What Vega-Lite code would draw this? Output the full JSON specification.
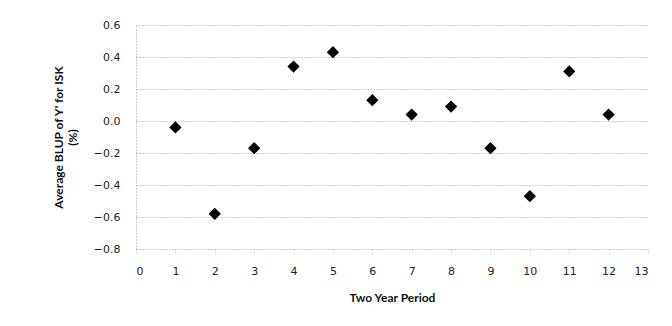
{
  "$schema": "https://vega.github.io/schema/vega-lite/v6.json",
  "width": 512,
  "height": 224,
  "autosize": {"type": "none"},
  "padding": {"left": 136, "top": 25, "right": 24, "bottom": 77},
  "background": "white",
  "config": {"view": {"stroke": null}},
  "data": {"values": [
    {"period": 1, "blup": -0.04},
    {"period": 2, "blup": -0.58},
    {"period": 3, "blup": -0.17},
    {"period": 4, "blup": 0.34},
    {"period": 5, "blup": 0.43},
    {"period": 6, "blup": 0.13},
    {"period": 7, "blup": 0.04},
    {"period": 8, "blup": 0.09},
    {"period": 9, "blup": -0.17},
    {"period": 10, "blup": -0.47},
    {"period": 11, "blup": 0.31},
    {"period": 12, "blup": 0.04}
  ]},
  "mark": {"type": "point", "shape": "diamond", "filled": true, "color": "black", "size": 150, "opacity": 1},
  "encoding": {
    "x": {
      "field": "period", "type": "quantitative",
      "scale": {"domain": [0, 13], "nice": false, "zero": false},
      "axis": {
        "title": "Two Year Period",
        "values": [0,1,2,3,4,5,6,7,8,9,10,11,12,13],
        "grid": false, "domain": false,
        "ticks": true, "tickSize": 4, "tickColor": "#bbbbbb", "tickDash": [1, 2],
        "labelFont": "DejaVu Sans", "labelFontSize": 11, "labelColor": "#222222",
        "labelPadding": 12,
        "titleFont": "Lato", "titleFontSize": 12, "titleFontWeight": "bold", "titleColor": "#111111",
        "titlePadding": 16
      }
    },
    "y": {
      "field": "blup", "type": "quantitative",
      "scale": {"domain": [-0.8, 0.6], "nice": false, "zero": false},
      "axis": {
        "title": ["Average BLUP of Y' for ISK", "(%)"],
        "values": [-0.8,-0.6,-0.4,-0.2,0,0.2,0.4,0.6],
        "format": ".1f",
        "grid": true, "gridColor": "#999999", "gridDash": [1, 2], "gridWidth": 1,
        "domain": true, "domainColor": "#999999", "domainDash": [1, 2],
        "ticks": false,
        "labelFont": "DejaVu Sans", "labelFontSize": 11, "labelColor": "#222222",
        "labelPadding": 16,
        "titleFont": "Lato", "titleFontSize": 12, "titleFontWeight": "bold", "titleColor": "#111111",
        "titlePadding": 14, "titleLineHeight": 14
      }
    }
  }
}
